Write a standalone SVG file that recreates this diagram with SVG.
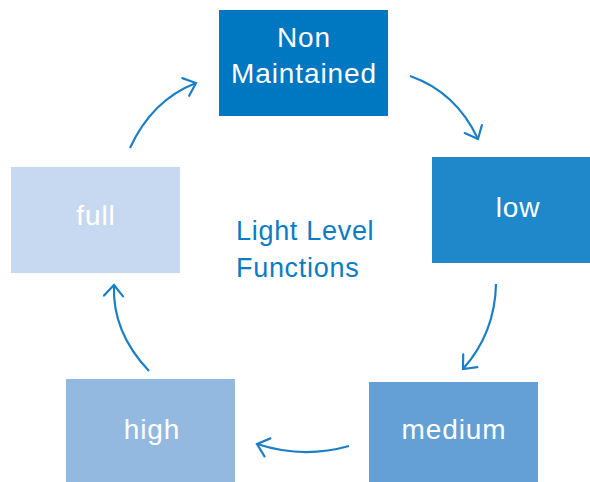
<svg xmlns="http://www.w3.org/2000/svg" width="590" height="482" viewBox="0 0 590 482">
<style>
.lbl{font-family:"Liberation Sans",Arial,sans-serif;font-size:28px;fill:#ffffff;text-anchor:middle;letter-spacing:0.9px}
.title{font-family:"Liberation Sans",Arial,sans-serif;font-size:27px;fill:#0a7cc4;letter-spacing:0.7px}
.conn{fill:none;stroke:#1b7fc7;stroke-width:2.2;marker-end:url(#ah)}
</style>
<defs>
<marker id="ah" markerUnits="userSpaceOnUse" viewBox="-13 -12 15 24" refX="0" refY="0" markerWidth="15" markerHeight="24" orient="auto">
<path d="M-11,-9.5 L0,0 L-11,9.5" fill="none" stroke="#1b7fc7" stroke-width="2.2" stroke-linecap="round" stroke-linejoin="miter"/>
</marker>
</defs>
<rect width="590" height="482" fill="#ffffff"/>
<g id="node-non-maintained">
<rect x="219" y="10" width="169" height="106" fill="#0077c1"/>
<text class="lbl" x="304" y="47">Non</text>
<text class="lbl" x="304" y="83">Maintained</text>
</g>
<g id="node-low">
<rect x="432" y="157" width="158" height="106" fill="#1e88cb"/>
<text class="lbl" x="518" y="217">low</text>
</g>
<g id="node-medium">
<rect x="369" y="382" width="169" height="100" fill="#64a0d5"/>
<text class="lbl" x="454" y="439">medium</text>
</g>
<g id="node-high">
<rect x="66" y="379" width="169" height="103" fill="#93b9e1"/>
<text class="lbl" x="152" y="439">high</text>
</g>
<g id="node-full">
<rect x="11" y="167" width="169" height="106" fill="#c6d9f0"/>
<text class="lbl" x="96" y="225">full</text>
</g>
<g id="center-label">
<text class="title" x="236" y="240">Light Level</text>
<text class="title" x="236" y="277">Functions</text>
</g>
<g id="connectors">
<path class="conn" d="M130,148 Q152,100 196,83"/>
<path class="conn" d="M410,76 Q456,92 478,139"/>
<path class="conn" d="M496,284 Q495,333 463,369"/>
<path class="conn" d="M349,446 Q303,459 257,444"/>
<path class="conn" d="M149,371 Q112,332 114,285"/>
</g>
</svg>
